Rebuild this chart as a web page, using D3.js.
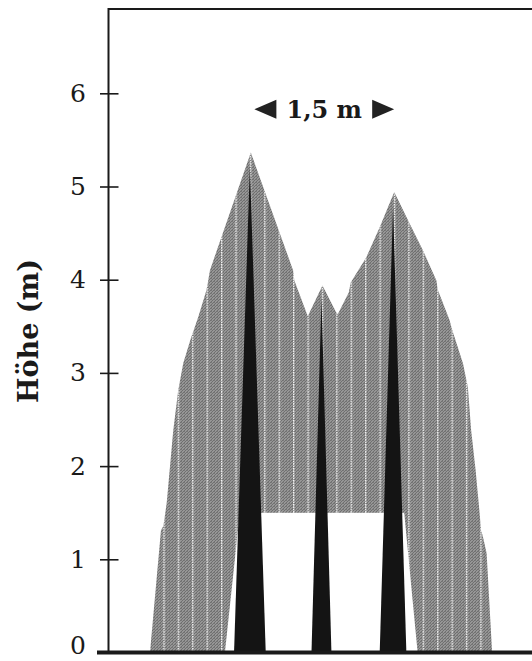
<!DOCTYPE html>
<html>
<head>
<meta charset="utf-8">
<script src="https://cdn.jsdelivr.net/npm/d3@7"></script>
<style>
  html, body { margin: 0; padding: 0; background: #fff; }
  svg { display: block; }
</style>
</head>
<body>
<div id="viz"></div>
<script>
const WIDTH = 532;
const HEIGHT = 661;

// y axis ticks (m)
const yTicks = [0, 1, 2, 3, 4, 5, 6];

// outline of the combined crown profile (m), left ground -> right ground
const crownX = [0.445, 0.563, 0.589, 0.624, 0.659, 0.695, 0.748, 0.802, 0.884, 0.902, 0.962, 1.050, 1.070, 1.088,
  1.527, 1.981, 1.994, 2.138, 2.296, 2.438, 2.460, 2.578, 2.599, 2.767, 2.910, 3.066, 3.232, 3.374, 3.518,
  3.532, 3.660, 3.682, 3.803, 3.856, 3.891, 3.939, 3.982, 3.998, 4.014, 4.057, 4.116];
const crownY = [0, 1.313, 1.356, 1.602, 1.988, 2.385, 2.813, 3.103, 3.371, 3.424, 3.596, 3.885, 3.992, 4.100,
  5.364, 4.100, 3.992, 3.607, 3.939, 3.660, 3.628, 3.864, 3.971, 4.242, 4.564, 4.941, 4.600, 4.314, 3.992,
  3.896, 3.564, 3.478, 3.103, 2.846, 2.385, 1.956, 1.495, 1.302, 1.259, 1.066, 0];

// open space under the crowns (m)
const gapX = [1.249, 1.409, 3.173, 3.317];
const gapY = [0, 1.5, 1.5, 0];

// stems: position, base width, height (m)
const stemX = [1.517, 2.285, 3.053];
const stemBase = [0.34, 0.214, 0.286];
const stemHeight = [5.22, 3.80, 4.78];

// scale marker
const spanStart = 1.565;
const spanLength = 1.5;
const spanLabel = '1,5 m';
const spanHeight = 5.83;

const AXIS_X = 108.5;
const Y_ZERO = 652.5;
const Y_SIX = 93.3;
const STRIPE_STEP = 0.1546; // m, spacing of the white seams
const STRIPE_ORIGIN = 0.595;
const SERIF = '"DejaVu Serif", serif';

const svg = d3.select('#viz')
  .append('svg')
  .attr('width', WIDTH)
  .attr('height', HEIGHT);

const y = d3.scaleLinear()
  .domain([0, 6])
  .range([Y_ZERO, Y_SIX]);

// same metres-per-pixel on both axes
const unit = (Y_ZERO - Y_SIX) / 6;
const x = d3.scaleLinear()
  .domain([0, (WIDTH - AXIS_X) / unit])
  .range([AXIS_X, WIDTH]);

const defs = svg.append('defs');

// dithered grey of the crowns
const dither = defs.append('pattern')
  .attr('id', 'dither')
  .attr('patternUnits', 'userSpaceOnUse')
  .attr('width', 3)
  .attr('height', 3);
dither.append('rect')
  .attr('width', 3)
  .attr('height', 3)
  .attr('fill', '#969696');
dither.append('path')
  .attr('d', 'M-1,1 L1,-1 M0,3 L3,0 M2,4 L4,2')
  .attr('stroke', '#646464')
  .attr('stroke-width', 0.8);
dither.append('rect')
  .attr('x', 1)
  .attr('y', 2)
  .attr('width', 0.8)
  .attr('height', 0.8)
  .attr('fill', '#6a6a6a');

// thin white seams
const stepPx = x(STRIPE_STEP) - x(0);
const stripes = defs.append('pattern')
  .attr('id', 'stripes')
  .attr('patternUnits', 'userSpaceOnUse')
  .attr('x', x(STRIPE_ORIGIN) - 0.6)
  .attr('y', 0)
  .attr('width', stepPx)
  .attr('height', 2.4);
stripes.append('rect')
  .attr('width', 1.3)
  .attr('height', 1.5)
  .attr('fill', '#fff')
  .attr('opacity', 0.95);

const line = d3.line()
  .x(d => x(d[0]))
  .y(d => y(d[1]));

const crown = d3.zip(crownX, crownY);
const gap = d3.zip(gapX, gapY);

const plot = svg.append('g').attr('class', 'plot');

// Crowns
plot.append('path')
  .attr('d', line(crown) + 'Z')
  .attr('fill', 'url(#dither)');
plot.append('path')
  .attr('d', line(crown) + 'Z')
  .attr('fill', 'url(#stripes)');

// Space below the crowns
plot.append('path')
  .attr('d', line(gap) + 'Z')
  .attr('fill', '#fff');

// Stems
plot.selectAll('.stem')
  .data(stemX.map((sx, i) => ({ x: sx, w: stemBase[i], h: stemHeight[i] })))
  .enter()
  .append('path')
  .attr('class', 'stem')
  .attr('d', d => line([[d.x - d.w / 2, 0], [d.x, d.h], [d.x + d.w / 2, 0]]) + 'Z')
  .attr('fill', '#141414');

// Frame
svg.append('path')
  .attr('d', `M${x(0)},${y(0)} V9 H${WIDTH + 2}`)
  .attr('fill', 'none')
  .attr('stroke', '#1a1a1a')
  .attr('stroke-width', 2);

// Y axis
const yAxis = d3.axisLeft(y)
  .tickValues(yTicks)
  .tickFormat(d3.format('d'))
  .tickSize(8.5)
  .tickPadding(14);

const axisG = svg.append('g')
  .attr('class', 'yaxis')
  .attr('transform', `translate(${x(0)},0)`)
  .call(yAxis);
axisG.select('.domain').remove();
axisG.selectAll('.tick line')
  .attr('x1', 10)
  .attr('stroke', '#1a1a1a')
  .attr('stroke-width', 1.6);
axisG.selectAll('.tick text')
  .attr('font-family', SERIF)
  .attr('font-size', 25)
  .attr('fill', '#1a1a1a');
// keep the bottom label inside the page
axisG.selectAll('.tick text')
  .filter(d => d === 0)
  .attr('dy', '0.04em');

// ground line
svg.append('line')
  .attr('x1', 97)
  .attr('x2', WIDTH + 2)
  .attr('y1', y(0))
  .attr('y2', y(0))
  .attr('stroke', '#1a1a1a')
  .attr('stroke-width', 4);

// Axis label
svg.append('text')
  .attr('transform', 'translate(38,331) rotate(-90)')
  .attr('text-anchor', 'middle')
  .attr('font-family', SERIF)
  .attr('font-weight', 'bold')
  .attr('font-size', 27)
  .attr('fill', '#1a1a1a')
  .text('Höhe (m)');

// 1,5 m marker
const sx0 = x(spanStart);
const sx1 = x(spanStart + spanLength);
const sy = y(spanHeight);
const arrowLen = 22;
const arrowHalf = 9.5;
const marker = svg.append('g').attr('class', 'span');
marker.append('path')
  .attr('d', `M${sx0},${sy} L${sx0 + arrowLen},${sy - arrowHalf} L${sx0 + arrowLen},${sy + arrowHalf}Z`)
  .attr('fill', '#222');
marker.append('path')
  .attr('d', `M${sx1},${sy} L${sx1 - arrowLen},${sy - arrowHalf} L${sx1 - arrowLen},${sy + arrowHalf}Z`)
  .attr('fill', '#222');
marker.append('text')
  .attr('x', (sx0 + sx1) / 2)
  .attr('y', sy + 9)
  .attr('text-anchor', 'middle')
  .attr('font-family', SERIF)
  .attr('font-weight', 'bold')
  .attr('font-size', 24)
  .attr('fill', '#1a1a1a')
  .text(spanLabel);
</script>
</body>
</html>
